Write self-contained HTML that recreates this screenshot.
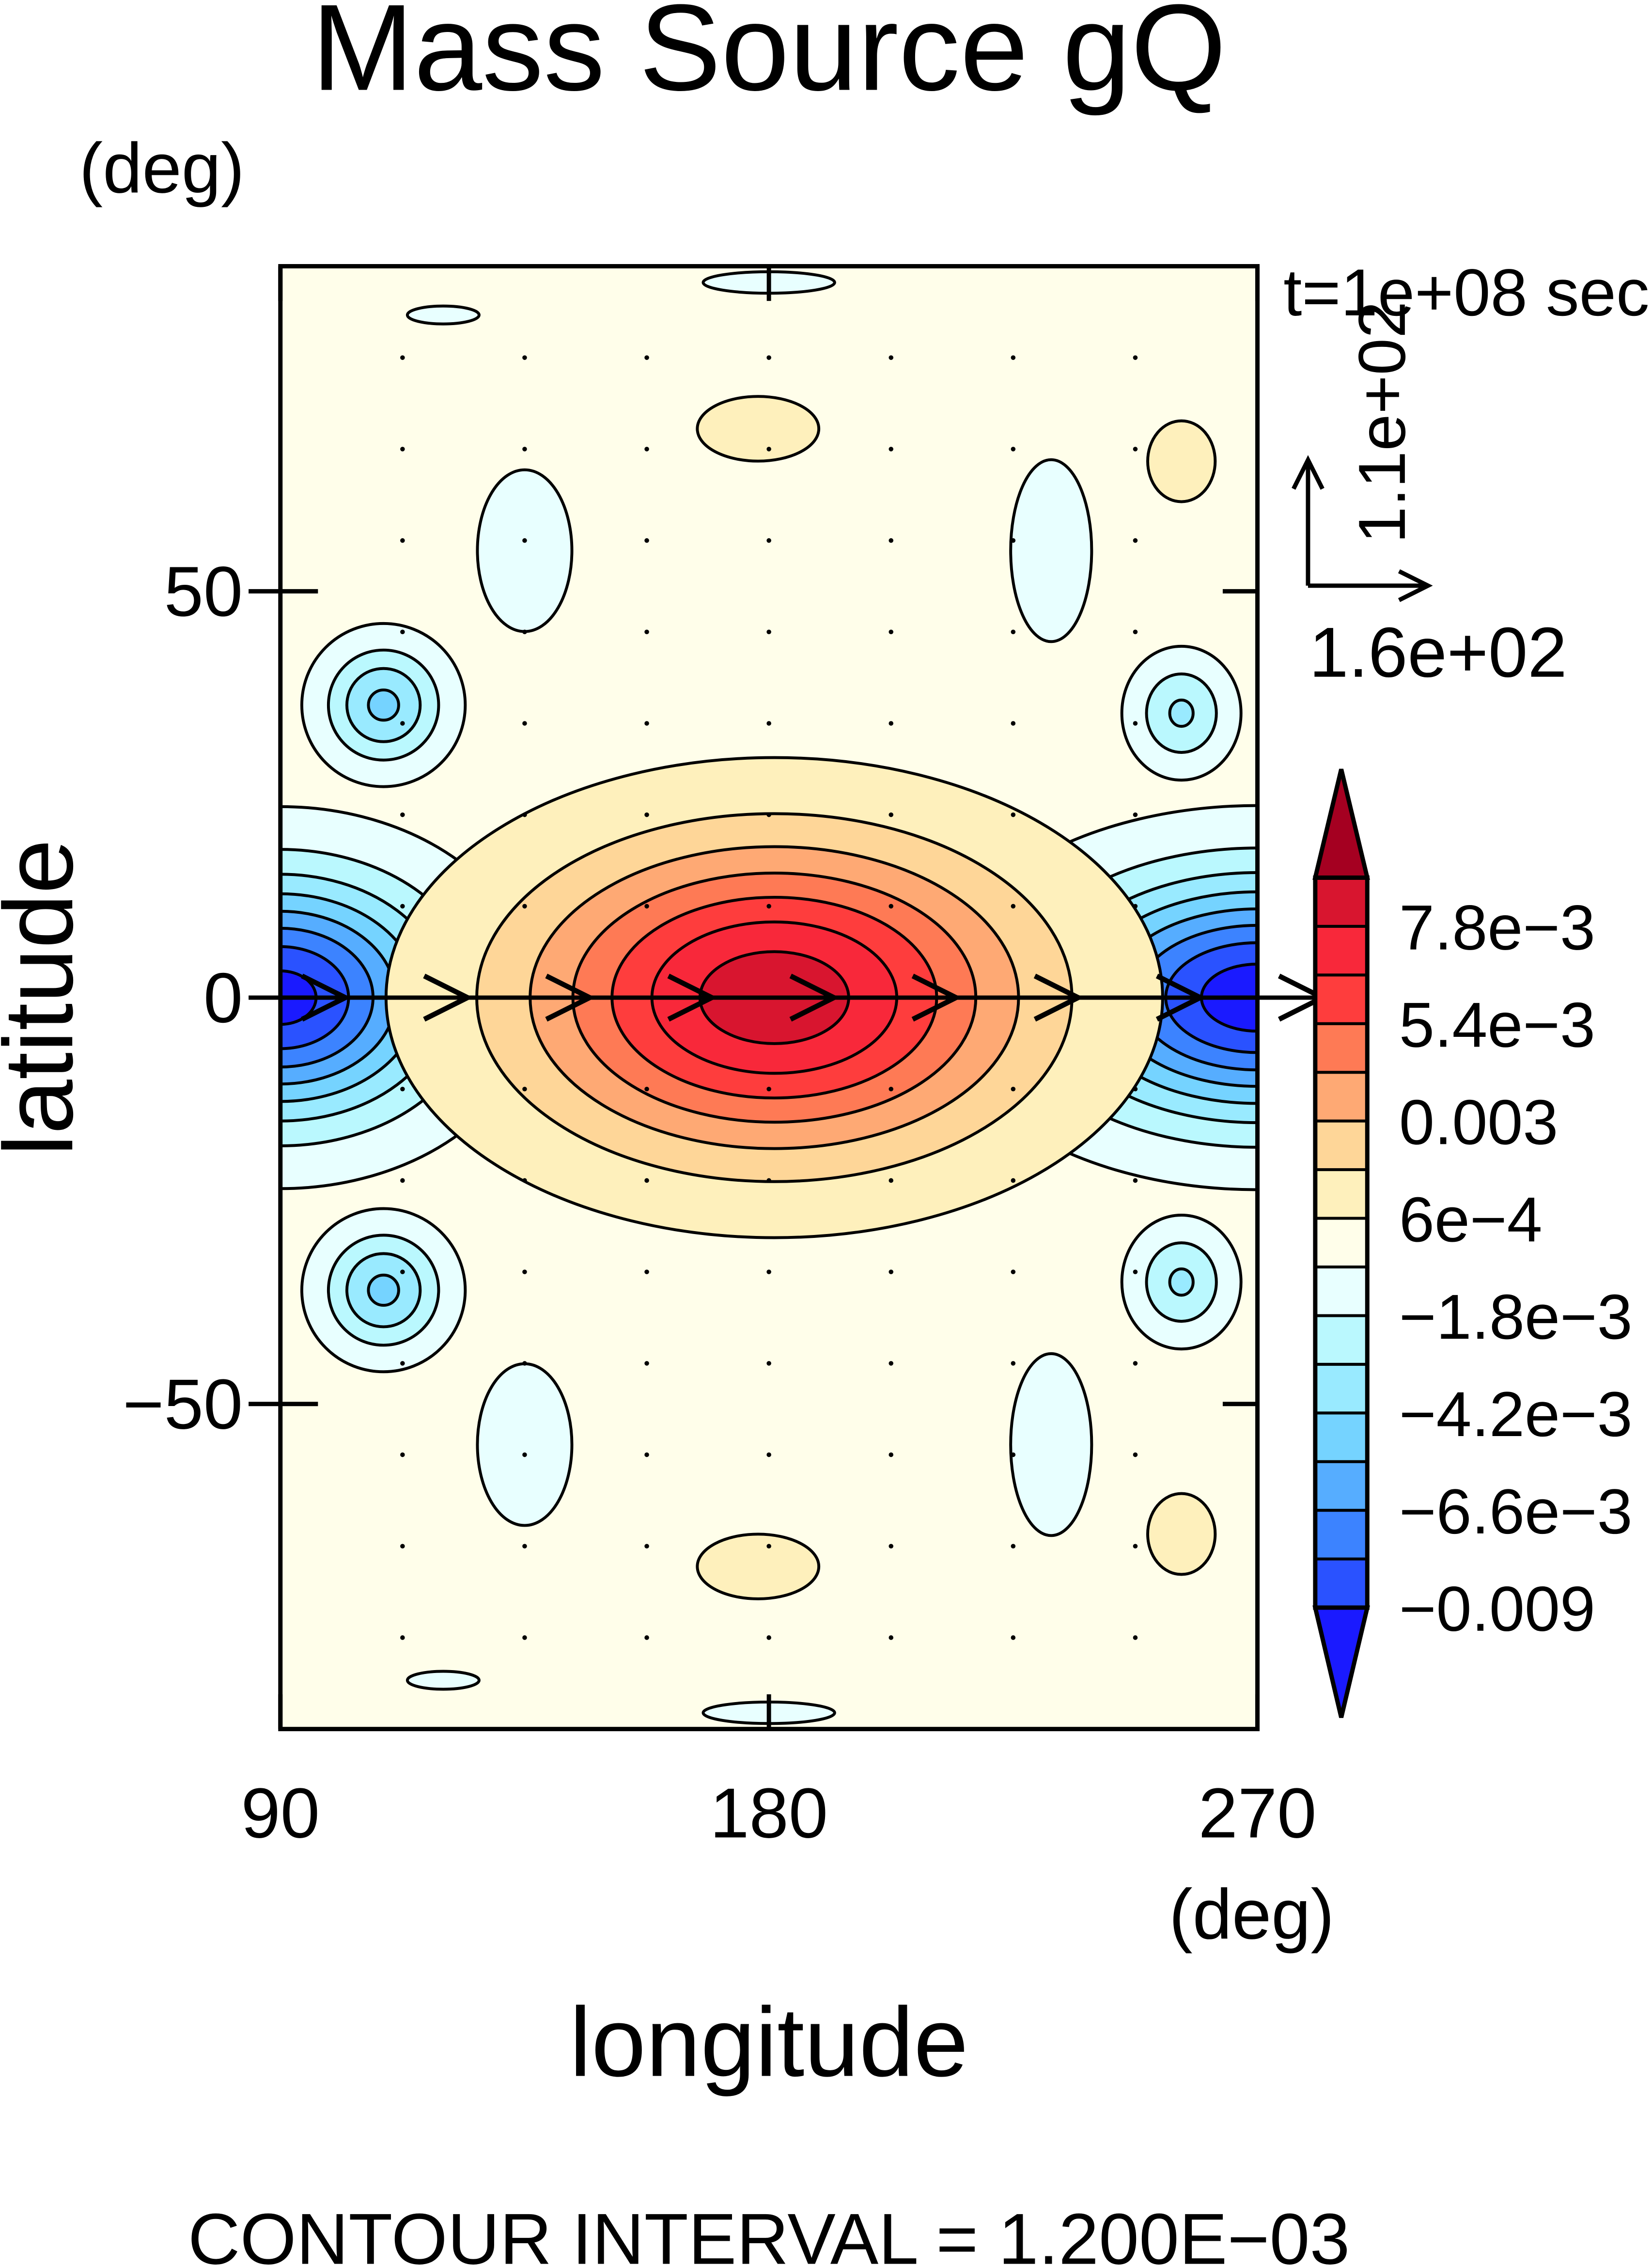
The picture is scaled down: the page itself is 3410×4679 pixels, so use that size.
<!DOCTYPE html>
<html><head><meta charset="utf-8"><style>
html,body{margin:0;padding:0;background:#fff}
svg{display:block}
text{font-family:"Liberation Sans",sans-serif;fill:#000}
</style></head><body>
<svg id="chart" xmlns="http://www.w3.org/2000/svg" width="3410" height="4679" viewBox="0 0 1143 1568">
<defs><clipPath id="pc"><rect x="194" y="184" width="676" height="1012"/></clipPath></defs>
<text x="532" y="62" font-size="85" text-anchor="middle">Mass Source gQ</text>
<text x="112" y="133" font-size="49" text-anchor="middle">(deg)</text>
<text x="0" y="0" font-size="68" text-anchor="middle" transform="translate(50,690) rotate(-90)">latitude</text>
<rect x="194" y="184" width="676" height="1012" fill="#fffeea"/>
<g id="field" clip-path="url(#pc)"></g>
<g id="dots" clip-path="url(#pc)"></g>
<g id="eqwind"></g>
<rect x="194" y="184" width="676" height="1012" fill="none" stroke="#000" stroke-width="3"/>
<g id="axes"></g>
<text x="866" y="1341" font-size="49" text-anchor="middle">(deg)</text>
<text x="532" y="1436" font-size="68" text-anchor="middle">longitude</text>
<text x="532" y="1566" font-size="50" text-anchor="middle">CONTOUR INTERVAL = 1.200E−03</text>
<text x="888" y="218" font-size="46">t=1e+08 sec</text>
<g stroke="#000" stroke-width="3" fill="none">
<path d="M905 405 V318 M895 338 L905 318 L915 338"/>
<path d="M905 405 H988 M968 395 L988 405 L968 415"/>
</g>
<text x="0" y="0" font-size="46" text-anchor="middle" transform="translate(972,292) rotate(-90)">1.1e+02</text>
<text x="995" y="468" font-size="49" text-anchor="middle">1.6e+02</text>
<g id="cbar"></g>
</svg>
<script>
var NS='http://www.w3.org/2000/svg';
var boxColors=['#2a52ff','#3c83ff','#56adff','#75d3ff','#99eaff','#baf8fe','#e8ffff','#fffeea','#fef0bc','#fed698','#fea974','#fe7a55','#fe3d3d','#f8283a','#d8152f'];
var lowColor='#1a1aff', highColor='#a50021';
var levelStart=-0.009, levelStep=0.0012;
var cbarLabels=['7.8e−3','5.4e−3','0.003','6e−4','−1.8e−3','−4.2e−3','−6.6e−3','−0.009'];
var cbarLabelIdx=[14,12,10,8,6,4,2,0];
// blobs: lon, lat, peak, sigma-lon, sigma-lat
var blobLon=[90,270,181,109,109,256,256,178,178,256,256,135,135,232,232,180,180,120,120];
var blobLat=[0,0,0,36,-36,35,-35,70,-70,66,-66,55,-55,55,-55,88,-88,84,-84];
var blobPeak=[-0.0095,-0.0098,0.0086,-0.0045,-0.0045,-0.0032,-0.0032,0.0013,0.0013,0.0013,0.0013,-0.0013,-0.0013,-0.0013,-0.0013,-0.0011,-0.0011,-0.0011,-0.0011];
var blobSLon=[20,25,31,7.5,7.5,6,6,9,9,5,5,7,7,6,6,11,11,6,6];
var blobSLat=[10,10,12.8,5,5,4.5,4.5,3.2,3.2,4,4,8,8,9,9,1.2,1.2,1,1];
var yTicks=[50,0,-50], yTickLabels=['50','0','−50'];
var xTicks=[90,180,270], xTickLabels=['90','180','270'];
var vecLon=[90,112.5,135,157.5,180,202.5,225,247.5,270];
(function(){
var X=function(lon){return 194+(lon-90)*676/180;};
var Y=function(lat){return 690-lat*1012/180;};
var DX=676/180, DY=1012/180;
function mk(t,a,p){var e=document.createElementNS(NS,t);for(var k in a)e.setAttribute(k,a[k]);p.appendChild(e);return e;}
var field=document.getElementById('field');
var nB=boxColors.length;
function ring(i,b,col,stroke){
  var f=Math.sqrt(2*Math.log(blobPeak[i]/b));
  var e=mk('ellipse',{cx:X(blobLon[i]),cy:Y(blobLat[i]),rx:blobSLon[i]*f*DX,ry:blobSLat[i]*f*DY,fill:col,stroke:stroke?'#000':'none','stroke-width':2},field);
  
  
}
for(var i=0;i<blobLon.length;i++){
  var p=blobPeak[i];
  if(p>0){
    for(var k=1;k<nB;k++){var b=levelStart+levelStep*k;
      if(b>0.0001 && b<p) ring(i,b,boxColors[k],true);}
  } else {
    for(var k=nB-1;k>=1;k--){var b=levelStart+levelStep*k;
      if(b<-0.0001 && b>p) ring(i,b,boxColors[k-1],true);}
    if(p<levelStart) ring(i,levelStart,lowColor,true);
  }
}
var dots=document.getElementById('dots');
for(var lon=112.5;lon<270;lon+=22.5){for(var lat=-78.75;lat<=80;lat+=11.25){
  if(Math.abs(lat)<1)continue;
  var d=mk('circle',{cx:X(lon),cy:Y(lat),r:1.6,fill:'#000'},dots);
  
  
}}
var eqg=document.getElementById('eqwind');
var eq=mk('line',{x1:194,y1:Y(0),x2:920,y2:Y(0),stroke:'#000','stroke-width':3},eqg);


vecLon.forEach(function(l){var x=X(l)+45;
  var a=mk('path',{d:'M'+(x-30)+' '+(Y(0)-15)+' L'+x+' '+Y(0)+' L'+(x-30)+' '+(Y(0)+15),fill:'none',stroke:'#000','stroke-width':3.5},eqg);
  
  });
var axes=document.getElementById('axes');
yTicks.forEach(function(v,i){
  mk('path',{d:'M172 '+Y(v)+' H220 M870 '+Y(v)+' H846',stroke:'#000','stroke-width':3},axes);
  var t=mk('text',{x:168,y:Y(v)+17,'font-size':49,'text-anchor':'end'},axes);t.textContent=yTickLabels[i];
  
  
});
xTicks.forEach(function(v,i){
  mk('path',{d:'M'+X(v)+' 184 V208 M'+X(v)+' 1196 V1172',stroke:'#000','stroke-width':3},axes);
  var t=mk('text',{x:X(v),y:1271,'font-size':49,'text-anchor':'middle'},axes);t.textContent=xTickLabels[i];
  
  
});
var cb=document.getElementById('cbar');
var cx0=910,cw=36,cTop=607,bh=505/nB;
for(var k2=0;k2<nB;k2++){
  var r=mk('rect',{x:cx0,y:cTop+(nB-1-k2)*bh,width:cw,height:bh,fill:boxColors[k2],stroke:'#000','stroke-width':2},cb);
  
  
}
mk('path',{d:'M'+cx0+' '+cTop+' L'+(cx0+cw/2)+' 532 L'+(cx0+cw)+' '+cTop+' Z',fill:highColor,stroke:'#000','stroke-width':3},cb);
mk('path',{d:'M'+cx0+' '+(cTop+505)+' L'+(cx0+cw/2)+' 1188 L'+(cx0+cw)+' '+(cTop+505)+' Z',fill:lowColor,stroke:'#000','stroke-width':3},cb);
mk('rect',{x:cx0,y:cTop,width:cw,height:505,fill:'none',stroke:'#000','stroke-width':3},cb);
cbarLabels.forEach(function(s,i){var yy=cTop+505-cbarLabelIdx[i]*bh;
  var t=mk('text',{x:968,y:yy+16,'font-size':44},cb);t.textContent=s;
  
  });
})();
</script>
</body></html>
